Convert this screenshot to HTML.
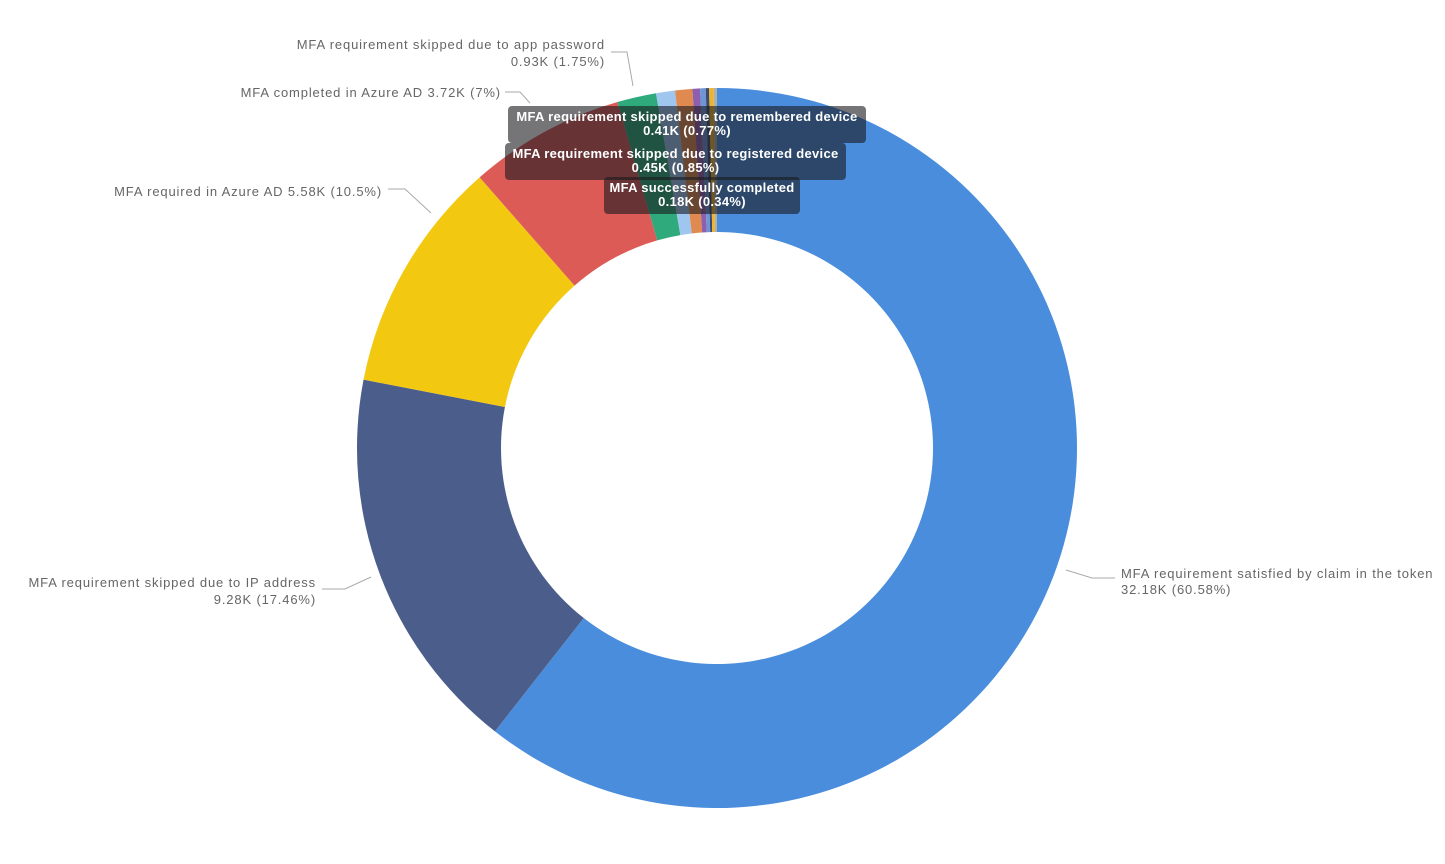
<!DOCTYPE html>
<html><head><meta charset="utf-8"><style>
body{margin:0;background:#fff;width:1445px;height:864px;overflow:hidden;font-family:"Liberation Sans",sans-serif}
svg{position:absolute;left:0;top:0}
.l{font-size:13px;fill:#666;letter-spacing:0.85px}
.tip{position:absolute;background:rgba(25,25,30,0.6);border-radius:4px;color:#fff;font-size:13px;font-weight:bold;text-align:center;line-height:14px;padding:3px 0;box-sizing:border-box;letter-spacing:0.3px;white-space:nowrap}
</style></head><body>
<svg id="s" width="1445" height="864"></svg>
<div class="tip" style="left:508px;top:106px;width:358px;height:37px;padding-top:4px">MFA requirement skipped due to remembered device<br>0.41K (0.77%)</div>
<div class="tip" style="left:505px;top:143px;width:341px;height:37px;padding-top:4px">MFA requirement skipped due to registered device<br>0.45K (0.85%)</div>
<div class="tip" style="left:604px;top:177px;width:196px;height:37px;padding-top:4px">MFA successfully completed<br>0.18K (0.34%)</div>
<script>
var cx=717,cy=448,R=360,r=216;
var d=[[60.58,"#4a8ddc"],[17.46,"#4b5d8a"],[10.5,"#f2c811"],[7,"#dd5b57"],[1.75,"#2eaa7c"],[0.85,"#9fc6ef"],[0.77,"#e08a4f"],[0.34,"#8e5fae"],[0.25,"#6d96d6"],[0.15,"#3c4b6e"],[0.2,"#f0b429"],[0.15,"#b0b0b0"]];
var s="",a=0;
function p(ang,rad){var t=ang/100*2*Math.PI;return [cx+rad*Math.sin(t),cy-rad*Math.cos(t)];}
d.forEach(function(e){var b=a+e[0];var p1=p(a,R),p2=p(b,R),p3=p(b,r),p4=p(a,r);var lg=e[0]>50?1:0;
s+='<path fill="'+e[1]+'" d="M'+p1+' A'+R+','+R+' 0 '+lg+' 1 '+p2+' L'+p3+' A'+r+','+r+' 0 '+lg+' 0 '+p4+'Z"/>';a=b;});
s+='<g stroke="#aaa" fill="none"><polyline points="1066,570 1092,578 1115,578"/><polyline points="371,577 345,589 322,589"/><polyline points="431,213 405,189 388,189"/><polyline points="530,103 520,92 505,92"/><polyline points="633,86 627,52 611,52"/></g>';
s+='<text class="l" x="1121" y="578">MFA requirement satisfied by claim in the token</text><text class="l" x="1121" y="594">32.18K (60.58%)</text>';
s+='<text class="l" x="316" y="587" text-anchor="end">MFA requirement skipped due to IP address</text><text class="l" x="316" y="604" text-anchor="end">9.28K (17.46%)</text>';
s+='<text class="l" x="382" y="196" text-anchor="end">MFA required in Azure AD 5.58K (10.5%)</text>';
s+='<text class="l" x="501" y="97" text-anchor="end">MFA completed in Azure AD 3.72K (7%)</text>';
s+='<text class="l" x="605" y="49" text-anchor="end">MFA requirement skipped due to app password</text><text class="l" x="605" y="66" text-anchor="end">0.93K (1.75%)</text>';
document.getElementById("s").innerHTML=s;
</script>
</body></html>
